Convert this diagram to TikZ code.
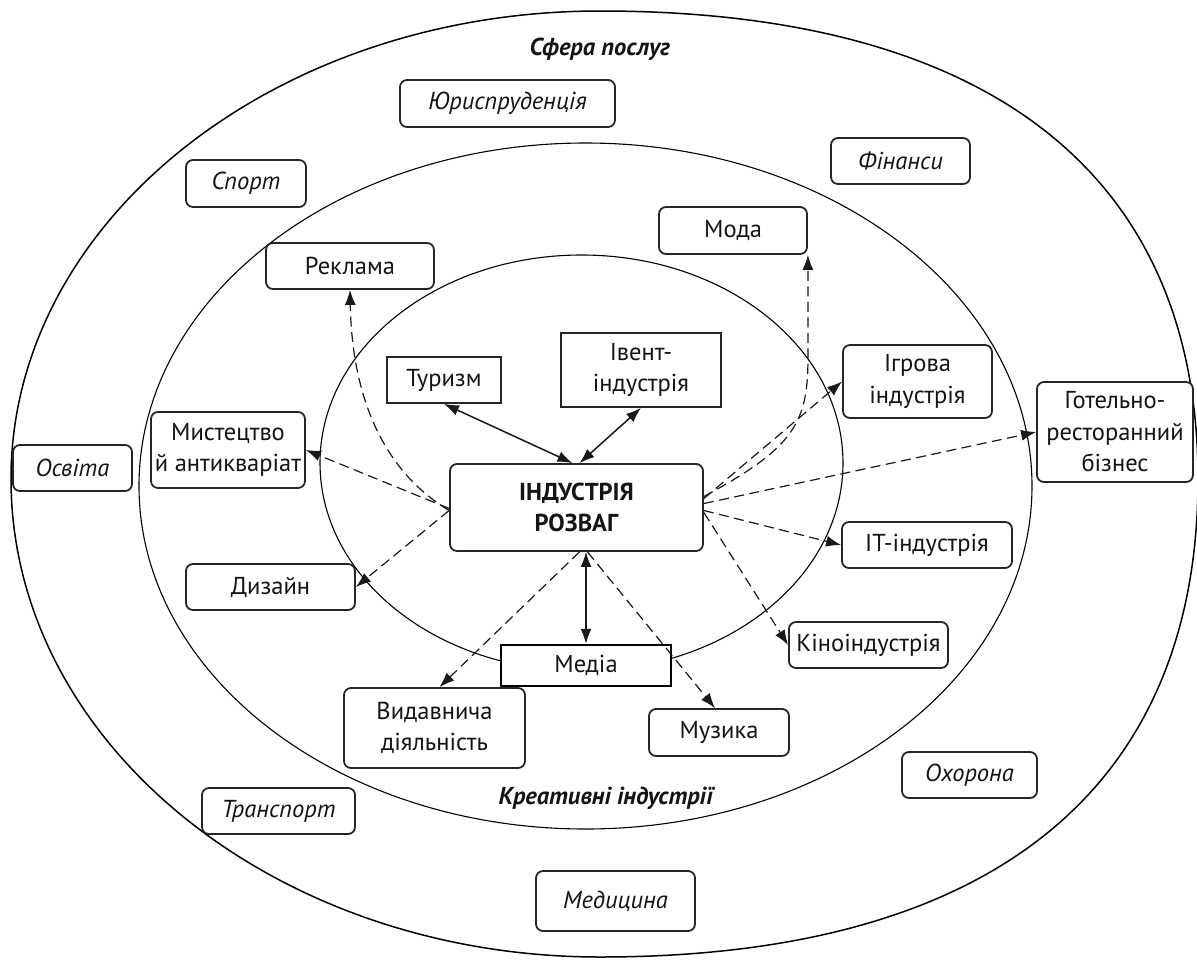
\documentclass[tikz,border=0pt]{standalone}
\usepackage{fontspec}
\setmainfont{PT Sans}
\usetikzlibrary{arrows.meta,calc}
\begin{document}
\begin{tikzpicture}[x=1pt,y=-1pt,
  every node/.style={font=\fontsize{24.5}{31.5}\selectfont, text=black!92},
  ell/.style={draw=black, line width=1.1pt},
  rbox/.style={draw=black!85, line width=1.8pt, rounded corners=7pt, fill=white, align=center, inner sep=0pt},
  sbox/.style={draw=black!85, line width=1.8pt, fill=white, align=center, inner sep=0pt},
  ibox/.style={rbox, font=\fontsize{24.5}{31.5}\selectfont\itshape},
  dasharrow/.style={draw=black!90, line width=1.2pt, dash pattern=on 10pt off 5.5pt, -{Latex[length=15pt,width=11pt]}},
  duoarrow/.style={draw=black!90, line width=1.5pt, {Latex[length=15pt,width=11pt]}-{Latex[length=15pt,width=11pt]}},
  ttl/.style={font=\fontsize{24.5}{31.5}\selectfont\bfseries\itshape, anchor=base}
]
\useasboundingbox (0,0) rectangle (1197,959);
\fill[white] (0,0) rectangle (1197,959);

% outer shape
\draw[ell, line width=1.5pt] (600,11) .. controls (990,11) and (1198,175) .. (1198,479)
  .. controls (1198,790) and (990,957) .. (600,957)
  .. controls (275,957) and (11,743) .. (11,479)
  .. controls (11,221) and (275,11) .. (600,11) -- cycle;
% middle and inner ellipses
\draw[ell] (585.5,486) ellipse [x radius=446.5, y radius=343];
\draw[ell] (581.5,463) ellipse [x radius=261.5, y radius=208];

% titles
\node[ttl] (sfera) at (600,55) {Сфера послуг};
\node[ttl] (krea) at (606,804) {Креативні індустрії};

% outer ring boxes (italic)
\node[ibox, minimum width=215, minimum height=47] (jur) at (507.5,103.5) {Юриспруденція};
\node[ibox, minimum width=120, minimum height=47] (sport) at (246,183.5) {Спорт};
\node[ibox, minimum width=139, minimum height=46] (fin) at (900.5,161) {Фінанси};
\node[ibox, minimum width=119, minimum height=46] (osv) at (72.5,468) {Освіта};
\node[ibox, minimum width=153, minimum height=46] (trans) at (278.5,811) {Транспорт};
\node[ibox, minimum width=135, minimum height=46] (ohor) at (969.5,775) {Охорона};
\node[ibox, minimum width=159, minimum height=60] (med) at (615.5,901) {Медицина};

% creative ring boxes
\node[rbox, minimum width=168, minimum height=46] (rekl) at (350,266) {Реклама};
\node[rbox, minimum width=148, minimum height=47] (moda) at (733,230.5) {Мода};
\node[rbox, minimum width=149, minimum height=73] (igr) at (917.5,381.5) {Ігрова\\індустрія};
\node[rbox, minimum width=156, minimum height=100] (hotel) at (1115,432) {Готельно-\\ресторанний\\бізнес};
\node[rbox, minimum width=154, minimum height=76] (myst) at (228,450) {Мистецтво\\й антикваріат};
\node[rbox, minimum width=170, minimum height=46] (it) at (927,545) {IT-індустрія};
\node[rbox, minimum width=169, minimum height=46] (dyz) at (270.5,587) {Дизайн};
\node[rbox, minimum width=159, minimum height=46] (kino) at (868.5,645) {Кіноіндустрія};
\node[rbox, minimum width=181, minimum height=80] (vyd) at (434.5,728) {Видавнича\\діяльність};
\node[rbox, minimum width=140, minimum height=47] (muz) at (719,732.5) {Музика};

% inner boxes
\node[sbox, minimum width=114, minimum height=46] (tur) at (444,380) {Туризм};
\node[sbox, minimum width=160, minimum height=74] (event) at (641,370) {Івент-\\індустрія};
\node[sbox, line width=2.4pt, draw=black, minimum width=170, minimum height=41] (media) at (586,665.5) {Медіа};
\node[rbox, minimum width=253, minimum height=87, font=\fontsize{24.5}{31.5}\selectfont\bfseries] (ind) at (576.5,507.5) {ІНДУСТРІЯ\\РОЗВАГ};

% solid double arrows
\draw[duoarrow] (tur.south) -- ($(ind.north)+(-4,0)$);
\draw[duoarrow] (event.south) -- ($(ind.north)+(3,0)$);
\draw[duoarrow] (media.north |- ind.south) -- (media.north);

% dashed arrows
\draw[dasharrow] ($(ind.west)+(0,3)$) .. controls (385,472) and (352,400) .. (rekl.south);
\draw[dasharrow] ($(ind.west)+(0,1)$) -- (myst.east);
\draw[dasharrow] ($(ind.west)+(0,3)$) -- (dyz.east);
\draw[dasharrow] ($(ind.south)+(3,0)$) -- ($(vyd.north)+(5,0)$);
\draw[dasharrow] ($(ind.south)+(11,0)$) -- ($(muz.north)+(-4,0)$);
\draw[dasharrow] ($(ind.east)+(0,5)$) -- (kino.west);
\draw[dasharrow] ($(ind.east)+(0,3)$) -- (it.west);
\draw[dasharrow] ($(ind.east)+(0,-4)$) -- (hotel.west);
\draw[dasharrow] ($(ind.east)+(0,-9)$) -- (igr.west);
\draw[dasharrow] ($(ind.east)+(0,-11)$) .. controls (790,450) and (807,425) .. ($(moda.south east)+(0,110)$) -- (moda.south east);
\end{tikzpicture}
\end{document}
